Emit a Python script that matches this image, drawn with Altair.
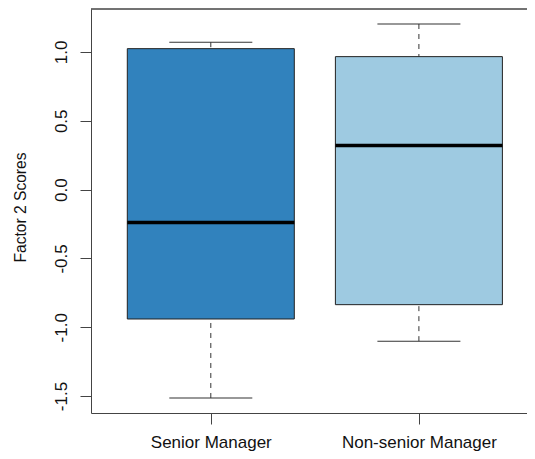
import altair as alt
import pandas as pd

categories = ["Senior Manager", "Non-senior Manager"]
whisker_low = [-1.514, -1.101]
q1 = [-0.940, -0.836]
median = [-0.239, 0.321]
q3 = [1.024, 0.966]
whisker_high = [1.071, 1.203]
fill_colors = ["#3182BD", "#9ECAE1"]
y_ticks = [-1.5, -1.0, -0.5, 0.0, 0.5, 1.0]

df = pd.DataFrame({
    "group": categories,
    "lo": whisker_low,
    "q1": q1,
    "med": median,
    "q3": q3,
    "hi": whisker_high,
})

W, H = 436, 404
FULL_W = 447.7
FONT = "Liberation Sans"
AX = "#444444"

x_enc = alt.X(
    "group:N",
    sort=categories,
    scale=alt.Scale(type="point", padding=0.5757, range=[0, FULL_W]),
    axis=alt.Axis(
        title=None, labelAngle=0, labelFont=FONT, labelFontSize=17,
        labelColor="#111111", tickSize=11, tickColor=AX, domainColor=AX,
        labelPadding=23, labelBaseline="alphabetic", grid=False,
    ),
)
y_scale = alt.Scale(domain=[-1.623, 1.312], nice=False, zero=False)
y_axis = alt.Axis(
    title="Factor 2 Scores", values=y_ticks, format=".1f",
    labelExpr="replace(datum.label, '\u2212', '-')",
    labelAngle=270, labelAlign="center", labelBaseline="alphabetic",
    labelFont=FONT, labelFontSize=17, labelColor="#111111", labelPadding=14,
    tickSize=11, tickColor=AX, domainColor=AX, grid=False,
    titleFont=FONT, titleFontSize=15.6, titleFontWeight="normal",
    titleColor="#111111", titleAngle=270, titleAlign="center",
    titleBaseline="alphabetic", titleX=-66, titleY=198, labelFlush=False,
)

base = alt.Chart(df)

whisk_lo = base.mark_rule(color="#333333", strokeWidth=1, strokeDash=[5, 5]).encode(
    x=x_enc, y=alt.Y("lo:Q", scale=y_scale, axis=y_axis), y2="q1:Q")
whisk_hi = base.mark_rule(color="#333333", strokeWidth=1, strokeDash=[5, 5]).encode(
    x=x_enc, y=alt.Y("hi:Q", scale=y_scale), y2="q3:Q")
caps_lo = base.mark_tick(color="#333333", thickness=1, size=83, opacity=1).encode(
    x=x_enc, y=alt.Y("lo:Q", scale=y_scale))
caps_hi = base.mark_tick(color="#333333", thickness=1, size=83, opacity=1).encode(
    x=x_enc, y=alt.Y("hi:Q", scale=y_scale))
boxes = base.mark_bar(size=167, stroke="#222222", strokeWidth=1, opacity=1).encode(
    x=x_enc,
    y=alt.Y("q1:Q", scale=y_scale),
    y2="q3:Q",
    color=alt.Color("group:N", scale=alt.Scale(domain=categories, range=fill_colors), legend=None),
)
meds = base.mark_tick(color="black", thickness=3.5, size=167, opacity=1).encode(
    x=x_enc, y=alt.Y("med:Q", scale=y_scale))
top_border = alt.Chart(df).mark_rule(color=AX, strokeWidth=1).encode(
    x=alt.value(0), x2=alt.value(FULL_W), y=alt.value(0))

chart = alt.layer(whisk_lo, whisk_hi, caps_lo, caps_hi, boxes, meds, top_border).properties(
    width=W, height=H,
    background="white",
    autosize=alt.AutoSizeParams(type="none"),
    padding={"left": 83, "top": 1, "right": 0, "bottom": 38},
).configure_view(stroke=None)

chart.save("out.html", embed_options={"renderer": "svg", "actions": False})
